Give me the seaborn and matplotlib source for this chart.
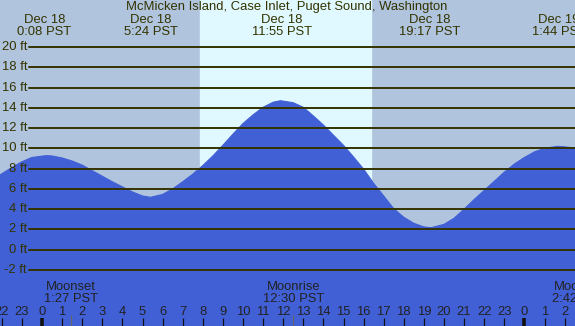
import matplotlib
matplotlib.use("Agg")
import matplotlib.pyplot as plt
import seaborn as sns
import pandas as pd

sns.set_style("white")
plt.rcParams['font.family'] = ['Liberation Sans', 'DejaVu Sans']

# DATA (hours from midnight Dec 18, heights in ft)
title = "McMicken Island, Case Inlet, Puget Sound, Washington"

tide_hours = [-2.1, -1.5, -1, -0.5, 0.19, 0.5, 1, 1.5, 2, 2.5, 3, 3.5, 4, 4.5, 5, 5.39,
              6, 6.5, 7, 7.5, 8, 8.5, 9, 9.5, 10, 10.5, 11, 11.5, 11.87, 12.5, 13, 13.5,
              14, 14.5, 15, 15.5, 16, 16.5, 17, 17.5, 18, 18.5, 19, 19.35, 20, 20.5,
              21, 21.5, 22, 22.5, 23, 23.5, 24, 24.5, 25, 25.64, 26, 26.6]
tide_heights = [7.37, 8.1, 8.68, 9.1, 9.28, 9.25, 9.05, 8.75, 8.35, 7.8, 7.25, 6.7, 6.2,
                5.7, 5.3, 5.17, 5.45, 6.0, 6.7, 7.45, 8.3, 9.25, 10.3, 11.4, 12.45, 13.3,
                14.05, 14.55, 14.7, 14.5, 14.05, 13.2, 12.3, 11.3, 10.3, 9.15, 7.95, 6.55,
                5.3, 4.05, 3.2, 2.6, 2.25, 2.17, 2.5, 3.1, 4.0, 4.95, 5.85, 6.75, 7.65,
                8.45, 9.1, 9.65, 10.0, 10.2, 10.15, 10.0]

extreme_hours = [0.13, 5.4, 11.92, 19.28, 25.73]
extreme_dates = ['Dec 18', 'Dec 18', 'Dec 18', 'Dec 18', 'Dec 19']
extreme_times = ['0:08 PST', '5:24 PST', '11:55 PST', '19:17 PST', '1:44 PST']

moon_hours = [1.45, 12.5, 26.7]
moon_events = ['Moonset', 'Moonrise', 'Moonset']
moon_times = ['1:27 PST', '12:30 PST', '2:42 PST']

sunrise, sunset = 7.86, 16.37

ft_levels = [20, 18, 16, 14, 12, 10, 8, 6, 4, 2, 0, -2]
tick_hours = list(range(-2, 27))
tick_labels = [str(h % 24) for h in tick_hours]

# COLORS
night = '#B0C4DE'
day = '#E0F8FF'
water = '#4160D6'
ink = '#333300'

df = pd.DataFrame({'hour': tide_hours, 'height': tide_heights})

fig = plt.figure(figsize=(5.75, 3.26), dpi=100)
ax = fig.add_axes([0, 0, 1, 1])
ax.set_facecolor(night)
for s in ax.spines.values():
    s.set_visible(False)
ax.set_xticks([])
ax.set_yticks([])

# pixel layout: 0 h at x=42, 20.1 px/h; 0 ft at y=249.7, 10.136 px/ft
x0, pxh = 42.0, 20.1
y0, pxf = 249.7, 10.136
ax.set_xlim(-x0 / pxh, (575 - x0) / pxh)
ax.set_ylim((y0 - 326) / pxf, y0 / pxf)
ybot = (y0 - 326) / pxf
def px2ft(py):
    return (y0 - py) / pxf
def px2h(px):
    return (px - x0) / pxh

ax.axvspan(sunrise, sunset, color=day, zorder=0)

ax.fill_between(df['hour'], ybot, df['height'], color=water, lw=0, zorder=1)
sns.lineplot(data=df, x='hour', y='height', color=water, lw=0.8, ax=ax, zorder=1)
ax.set_xlabel('')
ax.set_ylabel('')

fs = 9.4
for lv in ft_levels:
    ax.axhline(lv, xmin=29 / 575, xmax=1, color=ink, lw=1.4, zorder=2)
    ax.text(px2h(27), lv, f'{lv} ft', ha='right', va='center', fontsize=fs, color=ink)

ax.text(px2h(287), px2ft(7), title, ha='center', va='center', fontsize=fs, color=ink)
for h, d, t in zip(extreme_hours, extreme_dates, extreme_times):
    ax.text(h, px2ft(19.5), d, ha='center', va='center', fontsize=fs, color=ink)
    ax.text(h, px2ft(31.5), t, ha='center', va='center', fontsize=fs, color=ink)

for h, e, t in zip(moon_hours, moon_events, moon_times):
    ax.text(h, px2ft(287.5), e, ha='center', va='center', fontsize=fs, color='#222222')
    ax.text(h, px2ft(299.5), t, ha='center', va='center', fontsize=fs, color='#222222')
    ax.vlines(h, ybot, px2ft(315), color='#666666', lw=0.8, zorder=3)

for h, lab in zip(tick_hours, tick_labels):
    ax.text(h, px2ft(312), lab, ha='center', va='center', fontsize=fs, color='#222222')
    ax.vlines(h, ybot, px2ft(318), color='#111111', lw=2.6 if h % 24 == 0 else 0.9, zorder=3)

fig.savefig('out.png', dpi=100)
